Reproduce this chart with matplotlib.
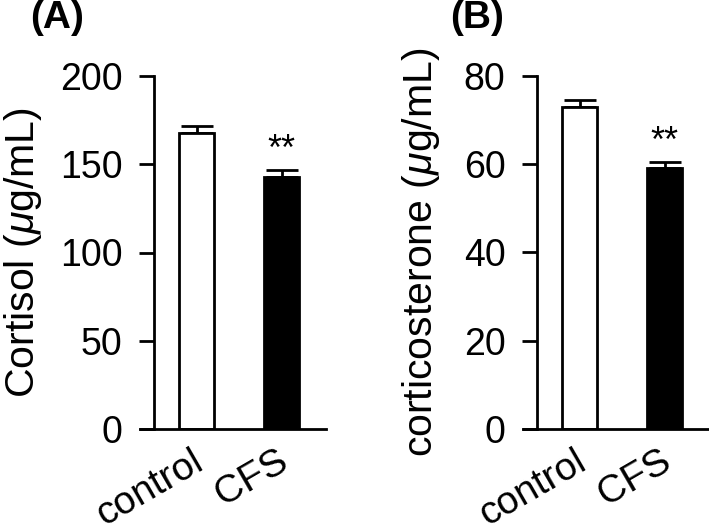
import matplotlib.pyplot as plt

plt.rcParams['font.family'] = ['Liberation Sans', 'DejaVu Sans']
plt.rcParams['mathtext.fontset'] = 'custom'
plt.rcParams['mathtext.rm'] = 'Liberation Sans'
plt.rcParams['mathtext.it'] = 'Liberation Sans:italic'

groups = ["control", "CFS"]
cortisol = [167.7, 142.8]
cortisol_err = [3.8, 3.9]
corticosterone = [73.0, 59.2]
corticosterone_err = [1.6, 1.4]

panels = [
    ("(A)", r"Cortisol ($\mu$g/mL)", cortisol, cortisol_err, 200, [0, 50, 100, 150, 200]),
    ("(B)", r"corticosterone ($\mu$g/mL)", corticosterone, corticosterone_err, 80, [0, 20, 40, 60, 80]),
]

fig = plt.figure(figsize=(7.09, 5.24), dpi=100)
W, H = 709, 524
lefts = [140, 523]
label_x = [44, 442]
title_x = [30, 450]

for i, (tag, ylab, vals, errs, ymax, ticks) in enumerate(panels):
    ax = fig.add_axes([lefts[i] / W, 95 / H, 186 / W, 353 / H])
    x = [0, 1]
    ax.bar(x, vals, width=0.41, color=["white", "black"], edgecolor="black", linewidth=2, zorder=2)
    ax.errorbar(x, vals, yerr=[[0, 0], errs], fmt="none", ecolor="black",
                elinewidth=2, capsize=11.5, capthick=2, zorder=1)
    ax.text(1, vals[1] + errs[1] + ymax * 0.055, "**", ha="center", va="center", fontsize=26)
    ax.set_xlim(-0.67, 1.52)
    ax.set_ylim(0, ymax)
    ax.set_yticks(ticks)
    ax.set_xticks(x)
    ax.set_xticklabels([])
    for xi, g in zip(x, groups):
        ax.annotate(g, xy=(xi, 0), xycoords="data", xytext=(6, -27.5),
                    textcoords="offset points", rotation=30, ha="right",
                    va="baseline", rotation_mode="anchor", fontsize=28,
                    annotation_clip=False)
    ax.tick_params(axis="x", length=0)
    ax.tick_params(axis="y", length=11, width=2, labelsize=27, pad=12)
    for s in ["top", "right"]:
        ax.spines[s].set_visible(False)
    ax.spines["left"].set_position(("data", -0.5))
    ax.spines["left"].set_linewidth(2)
    ax.spines["bottom"].set_linewidth(2)
    ax.set_ylabel(ylab, fontsize=29.5)
    ax.yaxis.set_label_coords((label_x[i] - lefts[i]) / 186, 0.5)
    fig.text(title_x[i] / W, 1.0, tag, fontsize=28, fontweight="bold", ha="left", va="top")

fig.savefig("out.png", dpi=100)
